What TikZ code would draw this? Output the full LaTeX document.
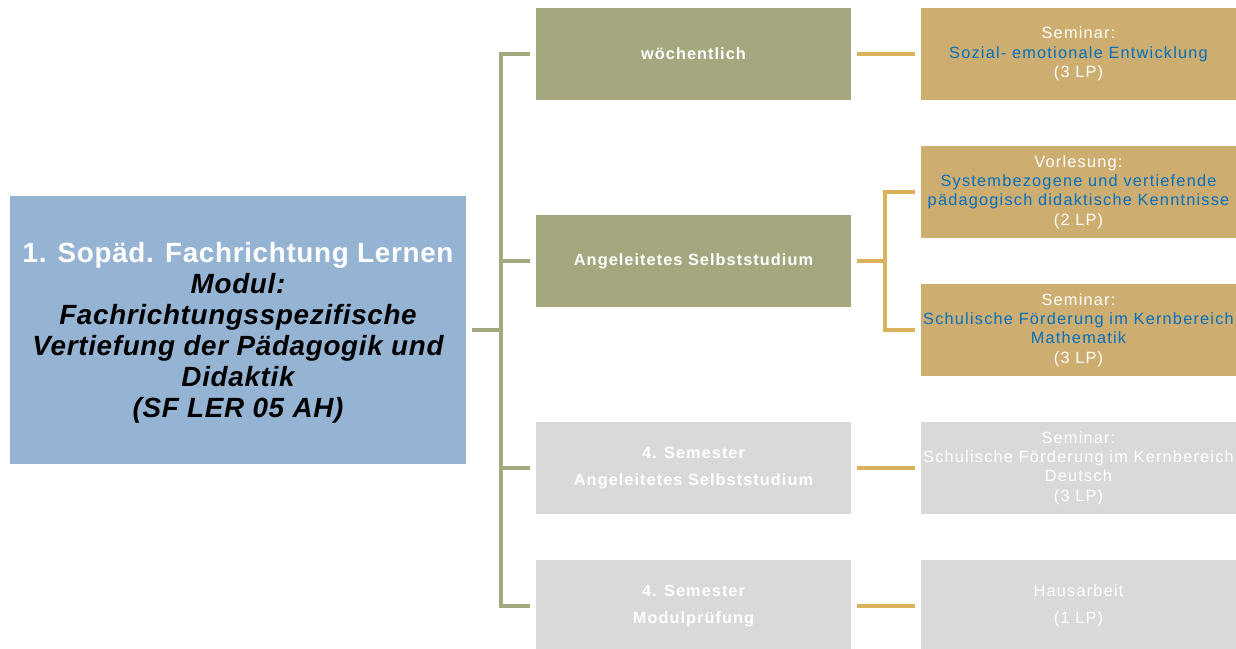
\documentclass[tikz,border=0pt]{standalone}
\usepackage{fontspec}
\setmainfont{Liberation Sans}
\newfontfamily\trackfont[LetterSpace=6.5]{Liberation Sans}
\newfontfamily\trackfontR[LetterSpace=7.5]{Liberation Sans}
\newfontfamily\titlefont[LetterSpace=2.5]{Liberation Sans}
\definecolor{bluefill}{RGB}{149,180,211}
\definecolor{greenfill}{RGB}{165,168,126}
\definecolor{greenline}{RGB}{165,169,127}
\definecolor{goldfill}{RGB}{206,173,112}
\definecolor{goldline}{RGB}{219,178,92}
\definecolor{grayfill}{RGB}{217,217,217}
\definecolor{linkblue}{RGB}{0,112,192}
\begin{document}
\begin{tikzpicture}[x=1pt,y=-1pt,
  box/.style={draw=none,inner sep=0pt,align=center,minimum width=315pt,minimum height=92pt},
  mainbox/.style={draw=none,fill=bluefill,inner sep=0pt,minimum width=456pt,minimum height=268pt},
  maintext/.style={inner sep=0pt,align=center,font=\titlefont\fontsize{27.8}{31}\selectfont\bfseries},
  greenbox/.style={box,fill=greenfill,text=white,font=\trackfont\fontsize{16.3}{27}\selectfont\bfseries},
  goldbox/.style={box,fill=goldfill,text=white,font=\trackfontR\fontsize{16.3}{19.4}\selectfont},
  grayboxA/.style={greenbox,fill=grayfill},
  grayboxB/.style={goldbox,fill=grayfill},
  grayboxC/.style={box,fill=grayfill,text=white,font=\trackfontR\fontsize{16.3}{27}\selectfont},
  gline/.style={draw=greenline,line width=4.6pt},
  oline/.style={draw=goldline,line width=4.4pt},
]
\useasboundingbox (0,0) rectangle (1236,648);
\clip (0,0) rectangle (1236,648);

\node[mainbox] (blue) at (238,330) {};
\node[maintext] (bluetext) at (238,333) {%
  \textcolor{white}{1. Sopäd. Fachrichtung Lernen}\\
  \itshape Modul:\\
  \itshape Fachrichtungsspezifische\\
  \itshape Vertiefung der Pädagogik und\\
  \itshape Didaktik\\
  \itshape (SF LER 05 AH)};

\node[greenbox] (g1) at (693.5,54) {wöchentlich};
\node[greenbox] (g2) at (693.5,261) {Angeleitetes Selbststudium};
\node[grayboxA] (g3) at (693.5,468) {4. Semester\\Angeleitetes Selbststudium};
\node[grayboxA] (g4) at (693.5,606) {4. Semester\\Modulprüfung};

\node[goldbox] (o1) at (1078.5,54) {Seminar:\\\textcolor{linkblue}{Sozial- emotionale Entwicklung}\\(3 LP)};
\node[goldbox] (o2) at (1078.5,192) {Vorlesung:\\\textcolor{linkblue}{Systembezogene und vertiefende}\\\textcolor{linkblue}{pädagogisch didaktische Kenntnisse}\\(2 LP)};
\node[goldbox] (o3) at (1078.5,330) {Seminar:\\\textcolor{linkblue}{Schulische Förderung im Kernbereich}\\\textcolor{linkblue}{Mathematik}\\(3 LP)};
\node[grayboxB] (r1) at (1078.5,468) {Seminar:\\Schulische Förderung im Kernbereich\\Deutsch\\(3 LP)};
\node[grayboxC] (r2) at (1078.5,606) {Hausarbeit\\(1 LP)};

\coordinate (t) at (501,330);
\coordinate (b) at (885,262);

\draw[gline] ([xshift=6pt]blue.east) -- (t);
\draw[gline] ([xshift=-6pt]g1.west) -| (t |- g4.west) -- ([xshift=-6pt]g4.west);
\draw[gline] ([xshift=-6pt]g2.west) -- (t |- g2.west);
\draw[gline] ([xshift=-6pt]g3.west) -- (t |- g3.west);

\draw[oline] ([xshift=6pt]g1.east) -- ([xshift=-6pt]o1.west);
\draw[oline] ([xshift=6pt]g2.east) -- (b |- g2.east);
\draw[oline] ([xshift=-6pt]o2.west) -| (b |- o3.west) -- ([xshift=-6pt]o3.west);
\draw[oline] ([xshift=6pt]g3.east) -- ([xshift=-6pt]r1.west);
\draw[oline] ([xshift=6pt]g4.east) -- ([xshift=-6pt]r2.west);
\end{tikzpicture}
\end{document}
